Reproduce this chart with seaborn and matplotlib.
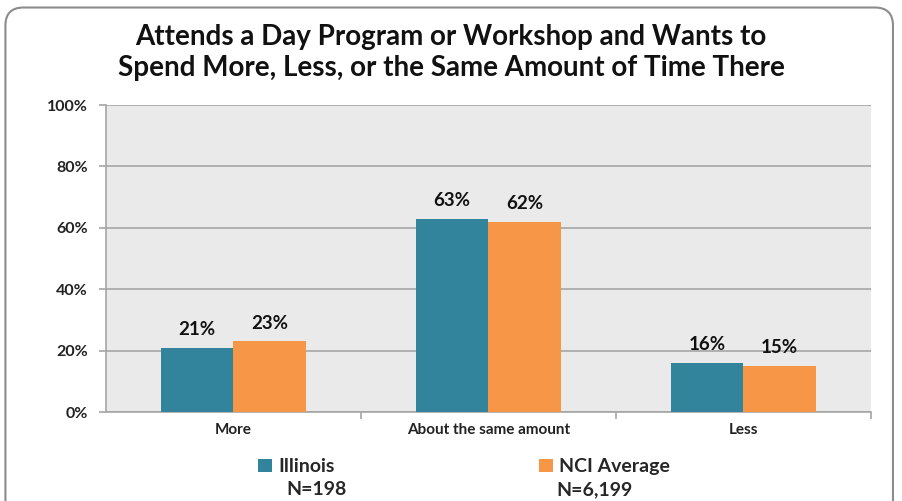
import matplotlib
matplotlib.use("Agg")
import matplotlib.pyplot as plt
from matplotlib.patches import FancyBboxPatch, Patch
from matplotlib.ticker import FixedLocator
import seaborn as sns
import pandas as pd

categories = ["More", "About the same amount", "Less"]
series_names = ["Illinois", "NCI Average"]
sample_sizes = ["N=198", "N=6,199"]
illinois = [21, 63, 16]
nci_average = [23, 62, 15]
y_ticks = [0, 20, 40, 60, 80, 100]
title = "Attends a Day Program or Workshop and Wants to\nSpend More, Less, or the Same Amount of Time There"

colors = ["#31849B", "#F79646"]

df = pd.DataFrame({
    "category": categories * 2,
    "series": [series_names[0]] * 3 + [series_names[1]] * 3,
    "value": illinois + nci_average,
})

sns.set_theme(style="white")
plt.rcParams["font.family"] = ["Lato", "DejaVu Sans"]
plt.rcParams["font.weight"] = "bold"

fig = plt.figure(figsize=(9.02, 5.01), dpi=100)
fig.patch.set_facecolor("white")

# rounded chart-area frame
frame = FancyBboxPatch((0.006, -0.05), 0.984, 1.035, boxstyle="round,pad=0,rounding_size=0.02",
                       transform=fig.transFigure, facecolor="none", edgecolor="#8C8C8C",
                       linewidth=1.5, zorder=5, mutation_aspect=902 / 501)
fig.patches.append(frame)

ax = fig.add_axes([0.1175, 0.1776, 0.848, 0.6128])
ax.set_facecolor("#EAEAEA")

sns.barplot(data=df, x="category", y="value", hue="series", palette=colors,
            width=0.57, gap=0, saturation=1, linewidth=0, ax=ax, legend=False, zorder=3)

ax.set_ylim(0, 100)
ax.set_xlim(-0.5, 2.5)
ax.set_yticks(y_ticks)
ax.set_yticklabels([f"{t}%" for t in y_ticks], fontsize=11.5, fontweight="bold", color="#222222")
ax.yaxis.grid(True, color="#A6A6A6", linewidth=1.2, zorder=1)
ax.set_axisbelow(True)
ax.set_xlabel("")
ax.set_ylabel("")
ax.tick_params(axis="x", which="major", length=0, pad=8, labelsize=11, labelcolor="#222222")
for lbl in ax.get_xticklabels():
    lbl.set_fontweight("bold")
ax.xaxis.set_minor_locator(FixedLocator([0.5, 1.5, 2.5]))
ax.tick_params(axis="x", which="minor", length=5, color="#A6A6A6", width=1.2, bottom=True)
ax.tick_params(axis="y", length=5, color="#A6A6A6", width=1.2, left=True, pad=8)

for side in ["top", "right"]:
    ax.spines[side].set_visible(False)
for side in ["left", "bottom"]:
    ax.spines[side].set_color("#A6A6A6")
    ax.spines[side].set_linewidth(1.2)

for container in ax.containers:
    ax.bar_label(container, labels=[f"{v:.0f}%" for v in container.datavalues],
                 padding=7, fontsize=13.5, fontweight="bold", color="#111111")

fig.text(0.5, 0.895, title, ha="center", va="center", fontsize=20, fontweight="bold",
         color="#111111", linespacing=1.25)

handles = [Patch(facecolor=c, edgecolor="none") for c in colors]
leg = fig.legend(handles, series_names, loc="center left", bbox_to_anchor=(0.286, 0.068), ncol=2,
                 frameon=False, fontsize=14, handlelength=0.7, handleheight=0.7,
                 handletextpad=0.35, columnspacing=10.5, borderpad=0, borderaxespad=0)
for t in leg.get_texts():
    t.set_fontweight("bold")
fig.text(0.318, 0.022, sample_sizes[0], ha="left", va="center", fontsize=14, fontweight="bold")
fig.text(0.617, 0.022, sample_sizes[1], ha="left", va="center", fontsize=14, fontweight="bold")

fig.savefig("out.png", dpi=100)
